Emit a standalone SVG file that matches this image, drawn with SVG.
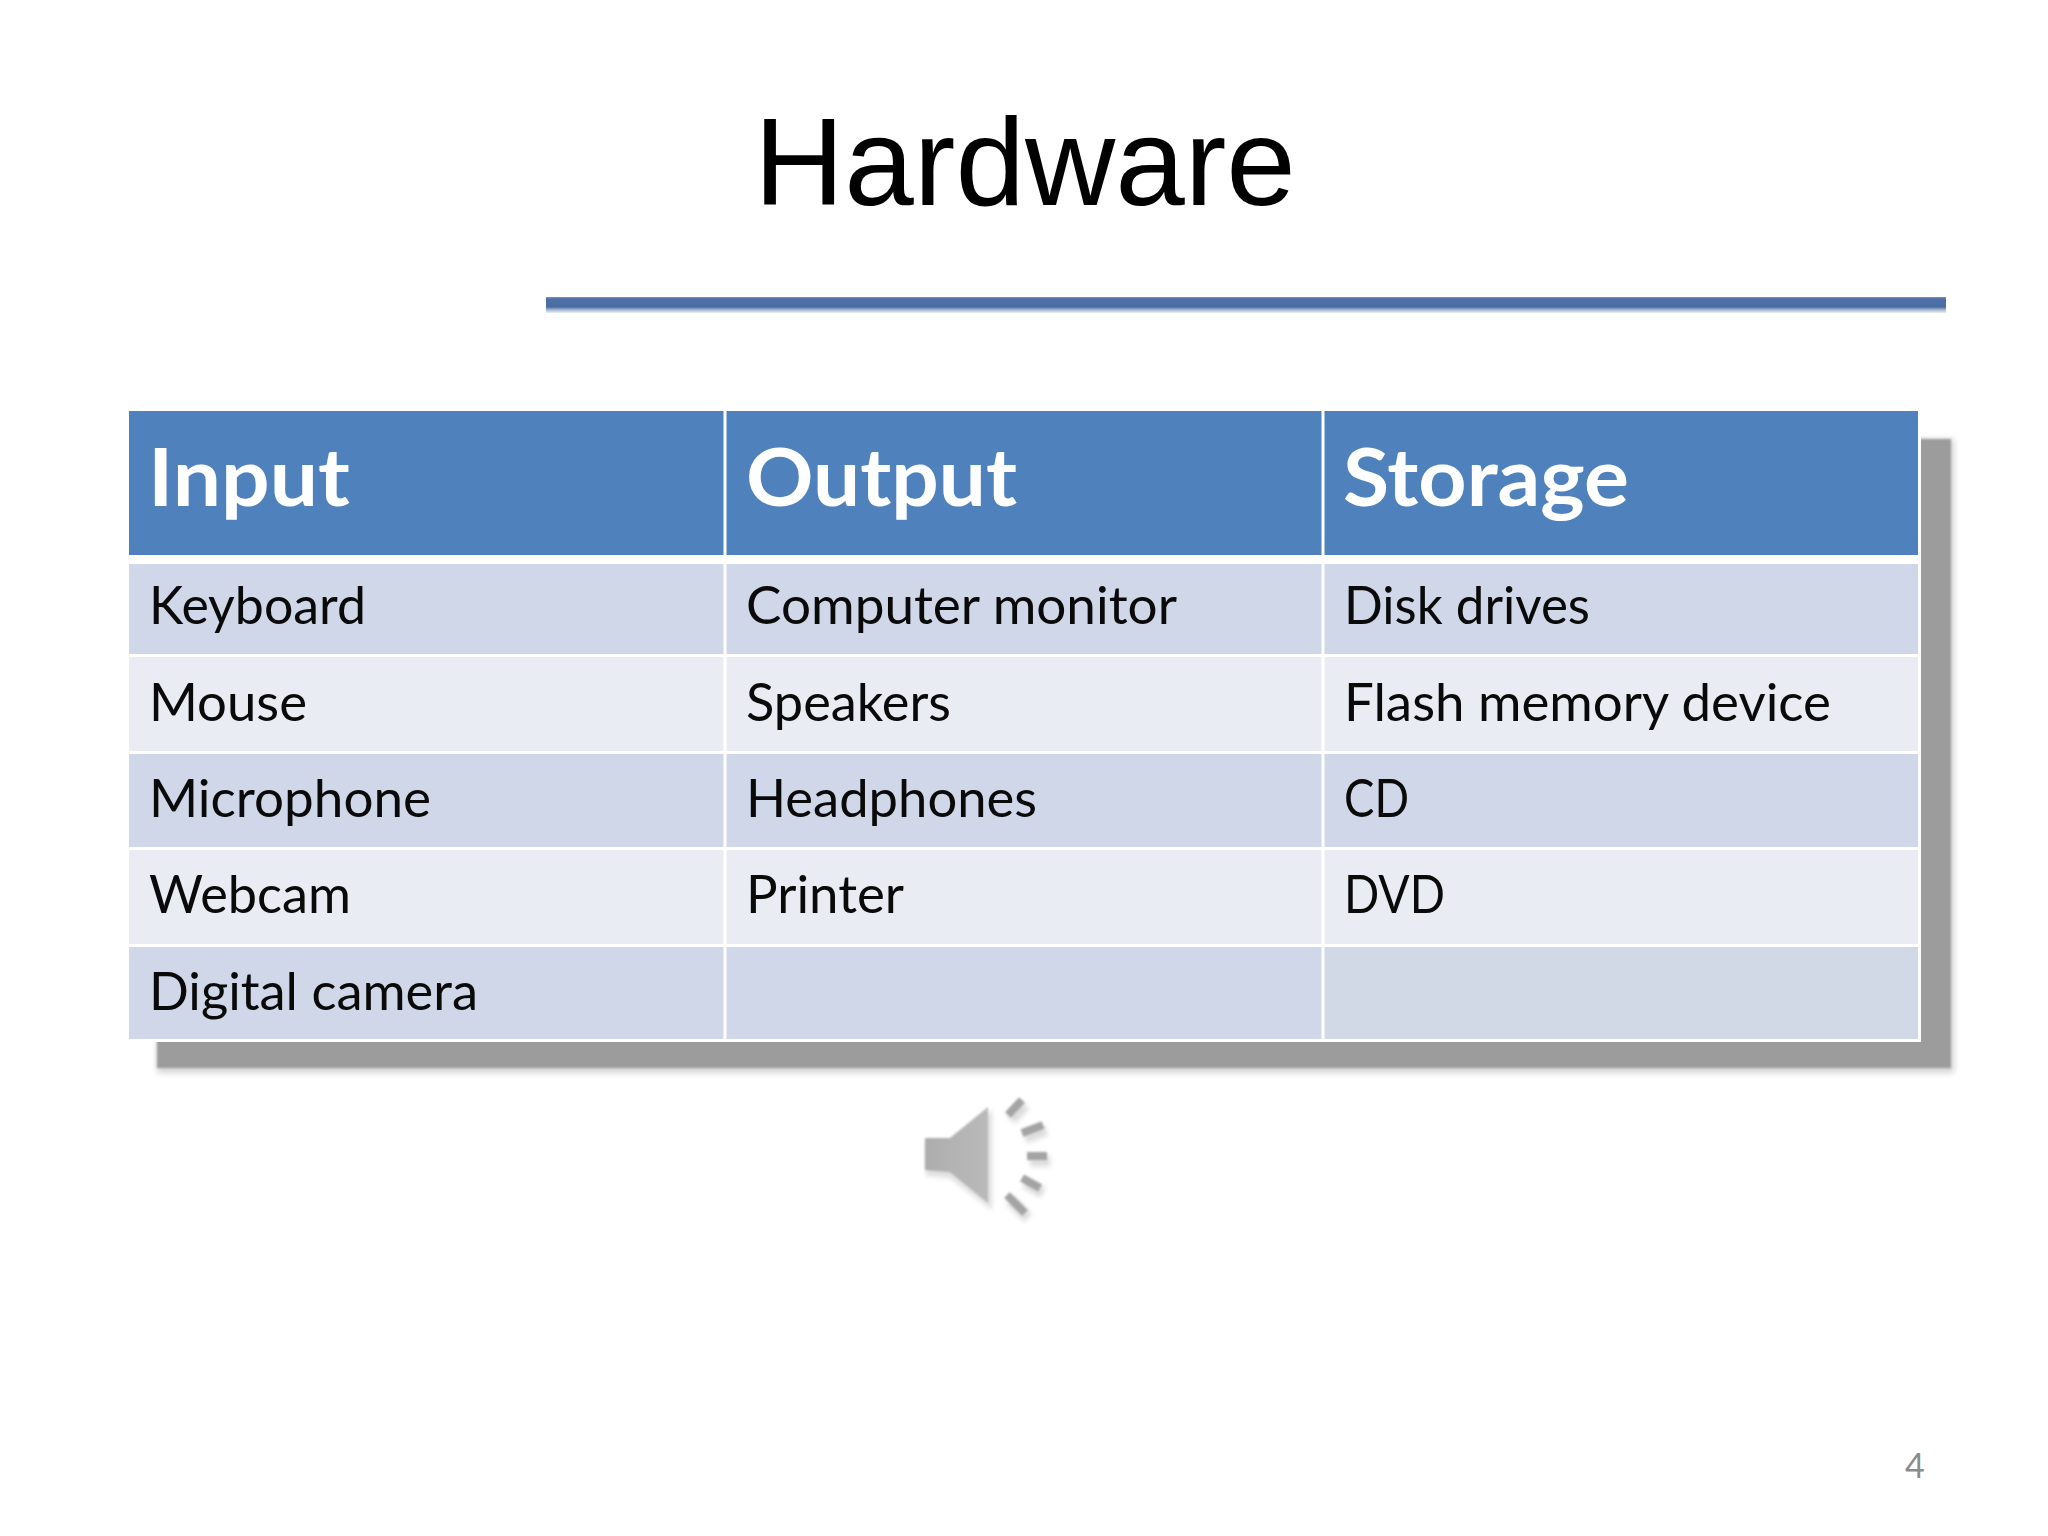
<svg xmlns="http://www.w3.org/2000/svg" width="2048" height="1536" viewBox="0 0 2048 1536">
<style>
.b{font-family:Lato,"Open Sans",sans-serif;font-size:52px;fill:#0a0a0a}
.h{font-family:Lato,"Open Sans",sans-serif;font-size:80px;font-weight:700;fill:#fff}
.o{fill:#d0d7e8}.e{fill:#e9edf3}.hd{fill:#4f81bd}
.v{stroke:#fff;stroke-width:3}
.bars line{stroke-width:8}
.front line{stroke:#a4a4a4}
.back line{stroke:#dcdcdc;stroke-width:11}
</style>
<defs>
<filter id="b1" x="-10%" y="-10%" width="120%" height="120%"><feGaussianBlur stdDeviation="1"/></filter>
<filter id="b2" x="-50%" y="-50%" width="200%" height="200%"><feGaussianBlur stdDeviation="2.5"/></filter>
<filter id="b3" x="-5%" y="-5%" width="110%" height="110%"><feGaussianBlur stdDeviation="3"/></filter>
<filter id="bar" filterUnits="userSpaceOnUse" x="1000" y="1090" width="60" height="135"><feGaussianBlur stdDeviation="1.2"/></filter>
<filter id="barback" filterUnits="userSpaceOnUse" x="1000" y="1090" width="70" height="145"><feGaussianBlur stdDeviation="2.5"/></filter>
<linearGradient id="sp" x1="0" x2="1" y1="0" y2="0"><stop offset="0" stop-color="#adadad"/><stop offset="1" stop-color="#bababa"/></linearGradient>
<linearGradient id="rl" x1="0" x2="0" y1="0" y2="1"><stop offset="0" stop-color="#7d97bd"/><stop offset=".12" stop-color="#4f70a6"/><stop offset=".62" stop-color="#4b6ca3"/><stop offset=".8" stop-color="#a4b6d0"/><stop offset="1" stop-color="#eef1f6"/></linearGradient>
</defs>
<rect width="2048" height="1536" fill="#fff"/>
<g id="title"><text x="754" y="205" font-family="'Liberation Sans',Arial,sans-serif" font-size="125" fill="#000">Hardware</text></g>
<g id="rule">
<rect x="546" y="297" width="1400" height="16" fill="url(#rl)"/>
</g>
<g id="shadow">
<rect x="157" y="439" width="1797" height="634" fill="#d4d4d4" filter="url(#b3)"/>
<rect x="157" y="439" width="1794" height="629" fill="#9c9c9c" filter="url(#b1)"/>
</g>
<g id="table">
<rect x="129" y="411" width="1792" height="631" fill="#fff"/>
<rect class="hd" x="129" y="411" width="1789" height="144"/>
<rect class="o" x="129" y="564" width="1789" height="90"/>
<rect class="e" x="129" y="657" width="1789" height="94"/>
<rect class="o" x="129" y="754" width="1789" height="93"/>
<rect class="e" x="129" y="850" width="1789" height="94"/>
<rect class="o" x="129" y="947" width="1789" height="92"/>
<rect x="1324" y="947" width="594" height="92" fill="#d0d9e5"/>
<line class="v" x1="725" y1="411" x2="725" y2="1040"/>
<line class="v" x1="1323" y1="411" x2="1323" y2="1040"/>
</g>
<g id="header-text">
<text class="h" x="148" y="506" textLength="202" lengthAdjust="spacingAndGlyphs">Input</text>
<text class="h" x="746" y="506" textLength="271" lengthAdjust="spacingAndGlyphs">Output</text>
<text class="h" x="1343" y="506" textLength="286" lengthAdjust="spacingAndGlyphs">Storage</text>
</g>
<g id="col-input">
<text class="b" x="149" y="624" textLength="217" lengthAdjust="spacingAndGlyphs">Keyboard</text>
<text class="b" x="149" y="721" textLength="158" lengthAdjust="spacingAndGlyphs">Mouse</text>
<text class="b" x="149" y="817" textLength="282" lengthAdjust="spacingAndGlyphs">Microphone</text>
<text class="b" x="149" y="913" textLength="202" lengthAdjust="spacingAndGlyphs">Webcam</text>
<text class="b" x="149" y="1010" textLength="329" lengthAdjust="spacingAndGlyphs">Digital camera</text>
</g>
<g id="col-output">
<text class="b" x="746" y="624" textLength="431" lengthAdjust="spacingAndGlyphs">Computer monitor</text>
<text class="b" x="746" y="721" textLength="205" lengthAdjust="spacingAndGlyphs">Speakers</text>
<text class="b" x="746" y="817" textLength="291" lengthAdjust="spacingAndGlyphs">Headphones</text>
<text class="b" x="746" y="913" textLength="158" lengthAdjust="spacingAndGlyphs">Printer</text>
</g>
<g id="col-storage">
<text class="b" x="1344" y="624" textLength="246" lengthAdjust="spacingAndGlyphs">Disk drives</text>
<text class="b" x="1344" y="721" textLength="487" lengthAdjust="spacingAndGlyphs">Flash memory device</text>
<text class="b" x="1344" y="817" textLength="65" lengthAdjust="spacingAndGlyphs">CD</text>
<text class="b" x="1344" y="913" textLength="101" lengthAdjust="spacingAndGlyphs">DVD</text>
</g>
<g id="speaker">
<polygon points="926,1142 950,1142 992,1110 992,1210 950,1178 926,1176" fill="#dedede" filter="url(#b2)"/>
<polygon points="925,1138 950,1138 988,1107 988,1203 950,1172 925,1170" fill="url(#sp)" filter="url(#b1)"/>
<g class="bars back" filter="url(#barback)" transform="translate(3 5)">
<line x1="1008" y1="1115" x2="1022" y2="1100"/>
<line x1="1022" y1="1133" x2="1043" y2="1125"/>
<line x1="1027" y1="1156" x2="1047" y2="1156"/>
<line x1="1022" y1="1178" x2="1040" y2="1188"/>
<line x1="1007" y1="1195" x2="1025" y2="1213"/>
</g>
<g class="bars front" filter="url(#bar)">
<line x1="1008" y1="1115" x2="1022" y2="1100"/>
<line x1="1022" y1="1133" x2="1043" y2="1125"/>
<line x1="1027" y1="1156" x2="1047" y2="1156"/>
<line x1="1022" y1="1178" x2="1040" y2="1188"/>
<line x1="1007" y1="1195" x2="1025" y2="1213"/>
</g>
</g>
<g id="page-number"><text x="1905" y="1478" font-family="Lato,'Open Sans',sans-serif" font-size="34" fill="#8b8b8b">4</text></g>
</svg>
